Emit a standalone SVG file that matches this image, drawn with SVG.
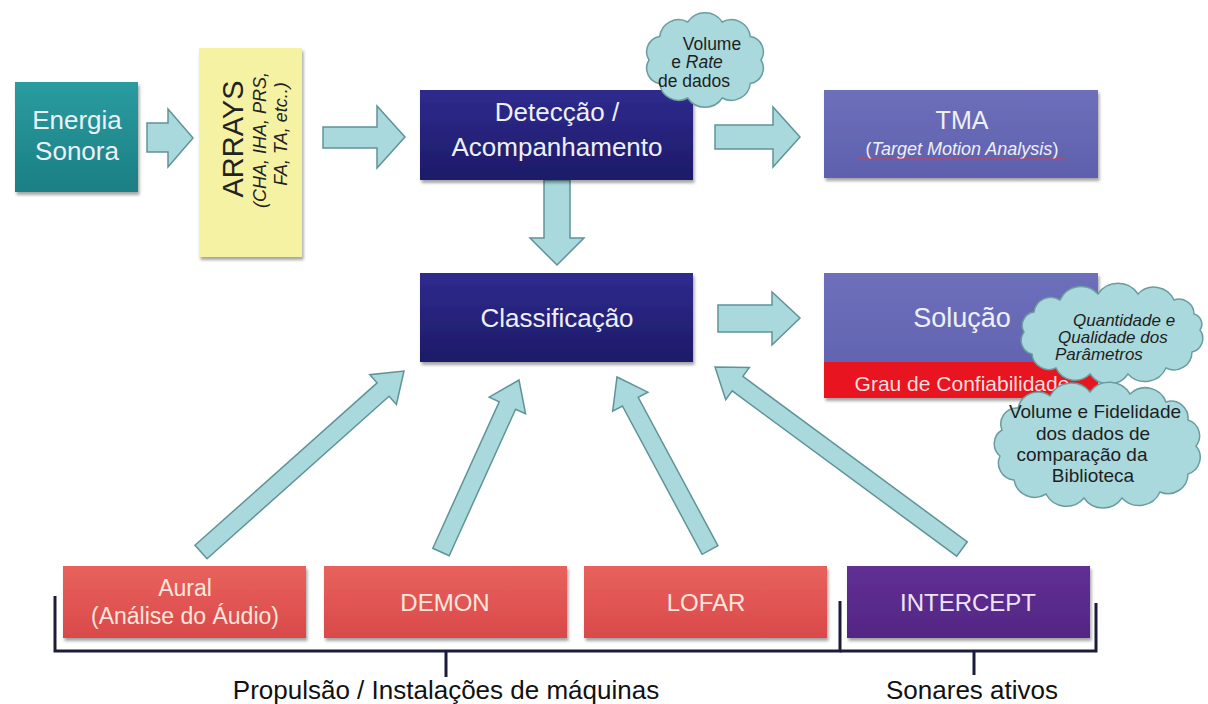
<svg xmlns="http://www.w3.org/2000/svg" width="1208" height="704" viewBox="0 0 1208 704">
<style>
text{font-family:"Liberation Sans",Arial,sans-serif}
.arrow{fill:#a9d9dc;stroke:#5f9496;stroke-width:1.5;stroke-linejoin:miter}
.cloud{fill:#a9d9dc;stroke:#6b9c9e;stroke-width:1.5}
.bracket{fill:none;stroke:#1c1c3a;stroke-width:3}
.ct{fill:#1e1e1e}
.wt{fill:#eef0f8;text-anchor:middle}
.mid{text-anchor:middle}
</style>
<defs>
<filter id="sh" x="-10%" y="-10%" width="130%" height="140%">
<feDropShadow dx="1.5" dy="3" stdDeviation="1.8" flood-color="#000" flood-opacity="0.35"/>
</filter>
<linearGradient id="gTeal" x1="0" y1="0" x2="0" y2="1"><stop offset="0" stop-color="#2a9ca0"/><stop offset="1" stop-color="#1a7f84"/></linearGradient>
<linearGradient id="gNavy" x1="0" y1="0" x2="0" y2="1"><stop offset="0" stop-color="#2f2b8e"/><stop offset="1" stop-color="#1d1a68"/></linearGradient>
<linearGradient id="gPeri" x1="0" y1="0" x2="0" y2="1"><stop offset="0" stop-color="#6d6fbb"/><stop offset="1" stop-color="#5e60ad"/></linearGradient>
<linearGradient id="gCoral" x1="0" y1="0" x2="0" y2="1"><stop offset="0" stop-color="#e8625d"/><stop offset="1" stop-color="#d9494a"/></linearGradient>
<linearGradient id="gPurp" x1="0" y1="0" x2="0" y2="1"><stop offset="0" stop-color="#622f95"/><stop offset="1" stop-color="#522683"/></linearGradient>
</defs>
<rect width="1208" height="704" fill="#ffffff"/>

<g id="connectors">
<polygon class="arrow" points="147,123 168,123 168,109 193,138 168,167 168,152 147,152"/>
<polygon class="arrow" points="323,127 377,127 377,106 405,137 377,168 377,148 323,148"/>
<polygon class="arrow" points="715,125 773,125 773,107 800,137 773,167 773,149 715,149"/>
<polygon class="arrow" points="544,180 570,180 570,238 584,238 557,265 530,238 544,238"/>
<polygon class="arrow" points="718,305 772,305 772,292 800,318 772,345 772,332 718,332"/>
<polygon class="arrow" points="207,558.7 389.1,396.3 396.4,404.5 404,371 369.8,374.7 377.1,382.9 195,545.3"/>
<polygon class="arrow" points="449.2,555.7 515.6,409.2 525.6,413.8 519,380 489.2,397.2 499.2,401.8 432.8,548.3"/>
<polygon class="arrow" points="717.9,545.7 638.2,397.4 647.9,392.2 617,377 612.7,411.2 622.4,406 702.1,554.3"/>
<polygon class="arrow" points="967.3,541.8 742.9,376.4 749.4,367.5 715,367 725.7,399.7 732.2,390.9 956.7,556.2"/>
</g>

<g id="energia">
<rect x="15" y="82" width="123" height="110" fill="url(#gTeal)" filter="url(#sh)"/>
<text class="wt" x="77" y="129" font-size="26">Energia</text>
<text class="wt" x="77" y="160" font-size="26">Sonora</text>
</g>

<g id="arrays">
<rect x="199" y="48" width="103" height="209" fill="#f6f2a4" filter="url(#sh)"/>
<text transform="translate(243,139) rotate(-90)" class="mid" font-size="29" fill="#222">ARRAYS</text>
<text transform="translate(266,140) rotate(-90)" class="mid" font-size="18" font-style="italic" fill="#222">(CHA, IHA, PRS,</text>
<text transform="translate(287,134) rotate(-90)" class="mid" font-size="18" font-style="italic" fill="#222">FA, TA, etc..)</text>
</g>

<g id="deteccao">
<rect x="420" y="90" width="273" height="90" fill="url(#gNavy)" filter="url(#sh)"/>
<text class="wt" x="557" y="121" font-size="26">Detecção /</text>
<text class="wt" x="557" y="156" font-size="26">Acompanhamento</text>
</g>

<g id="cloud-volume-rate">
<path class="cloud" d="M761,60 A15.5,15.5 0 0 1 750.3,83.5 A19,19 0 0 1 722.3,98 A20.8,20.8 0 0 1 687.7,98 A19,19 0 0 1 659.7,83.5 A15.5,15.5 0 0 1 649,60 A15.5,15.5 0 0 1 659.7,36.5 A19,19 0 0 1 687.7,22 A20.8,20.8 0 0 1 722.3,22 A19,19 0 0 1 750.3,36.5 A15.5,15.5 0 0 1 761,60 Z"/>
<text class="ct mid" x="712" y="50" font-size="17.5">Volume</text>
<text class="ct mid" x="697" y="68" font-size="17.5">e <tspan font-style="italic">Rate</tspan></text>
<text class="ct mid" x="694" y="87" font-size="17.5">de dados</text>
</g>

<g id="tma">
<rect x="824" y="90" width="274" height="88" fill="url(#gPeri)" filter="url(#sh)"/>
<text class="wt" x="962" y="129" font-size="25">TMA</text>
<text class="wt" x="962" y="155" font-size="18">(<tspan font-style="italic">Target Motion Analysis</tspan>)</text>
<path d="M858,159 L1066,159" stroke="#d2404a" stroke-width="1" fill="none"/>
</g>

<g id="classificacao">
<rect x="420" y="273" width="273" height="89" fill="url(#gNavy)" filter="url(#sh)"/>
<text class="wt" x="557" y="327" font-size="26">Classificação</text>
</g>

<g id="solucao">
<rect x="824" y="273" width="274" height="125" fill="url(#gPeri)" filter="url(#sh)"/>
<rect x="824" y="362" width="274" height="36" fill="#e8141f"/>
<text class="wt" x="962" y="327" font-size="27">Solução</text>
<text x="962" y="391" font-size="21" fill="#fbdede" class="mid">Grau de Confiabilidade</text>
</g>

<g id="cloud-parametros">
<path class="cloud" d="M1200,330 A14,14 0 0 1 1192,352 A18,18 0 0 1 1166,368 A23,23 0 0 1 1128,374 A23,23 0 0 1 1090,374 A21,21 0 0 1 1056,368 A17,17 0 0 1 1032,354 A14,14 0 0 1 1024,332 A13.5,13.5 0 0 1 1034,312 A17,17 0 0 1 1060,300 A23,23 0 0 1 1098,294 A24,24 0 0 1 1138,294 A22,22 0 0 1 1174,300 A15,15 0 0 1 1194,314 A10.5,10.5 0 0 1 1200,330 Z"/>
<text class="ct" x="1073" y="326" font-size="17" font-style="italic">Quantidade e</text>
<text class="ct" x="1058" y="343" font-size="17" font-style="italic">Qualidade dos</text>
<text class="ct" x="1055" y="360" font-size="17" font-style="italic">Parâmetros</text>
</g>

<g id="cloud-biblioteca">
<path class="cloud" d="M1196,446 A17.5,17.5 0 0 1 1188,474 A20,20 0 0 1 1160,492 A23,23 0 0 1 1122,498 A23,23 0 0 1 1084,498 A23,23 0 0 1 1046,494 A21,21 0 0 1 1014,480 A17,17 0 0 1 1000,456 A16,16 0 0 1 1002,430 A16,16 0 0 1 1018,408 A20.5,20.5 0 0 1 1050,396 A24,24 0 0 1 1090,392 A24,24 0 0 1 1130,394 A22,22 0 0 1 1166,402 A17,17 0 0 1 1188,420 A16.5,16.5 0 0 1 1196,446 Z"/>
<text class="ct mid" x="1095" y="418" font-size="19">Volume e Fidelidade</text>
<text class="ct mid" x="1093" y="440" font-size="19">dos dados de</text>
<text class="ct mid" x="1082" y="461" font-size="19">comparação da</text>
<text class="ct mid" x="1093" y="482" font-size="19">Biblioteca</text>
</g>

<g id="aural">
<rect x="63" y="566" width="243" height="72" fill="url(#gCoral)" filter="url(#sh)"/>
<text x="185" y="596" font-size="23" fill="#fde6dc" class="mid">Aural</text>
<text x="185" y="624" font-size="23" fill="#fde6dc" class="mid">(Análise do Áudio)</text>
</g>

<g id="demon">
<rect x="324" y="566" width="243" height="72" fill="url(#gCoral)" filter="url(#sh)"/>
<text x="445" y="611" font-size="24" fill="#fde6dc" class="mid">DEMON</text>
</g>

<g id="lofar">
<rect x="584" y="566" width="243" height="72" fill="url(#gCoral)" filter="url(#sh)"/>
<text x="706" y="611" font-size="24" fill="#fde6dc" class="mid">LOFAR</text>
</g>

<g id="intercept">
<rect x="847" y="566" width="243" height="72" fill="url(#gPurp)" filter="url(#sh)"/>
<text x="968" y="611" font-size="24" fill="#eee4f6" class="mid">INTERCEPT</text>
</g>

<g id="bracket-propulsao">
<path class="bracket" d="M55,596 V651 H840 V601 M446,651 V677"/>
<text x="446" y="699" font-size="26" fill="#111" class="mid">Propulsão / Instalações de máquinas</text>
</g>

<g id="bracket-sonares">
<path class="bracket" d="M840,651 H1096 V603 M974,651 V675"/>
<text x="972" y="699" font-size="26" fill="#111" class="mid">Sonares ativos</text>
</g>
</svg>
